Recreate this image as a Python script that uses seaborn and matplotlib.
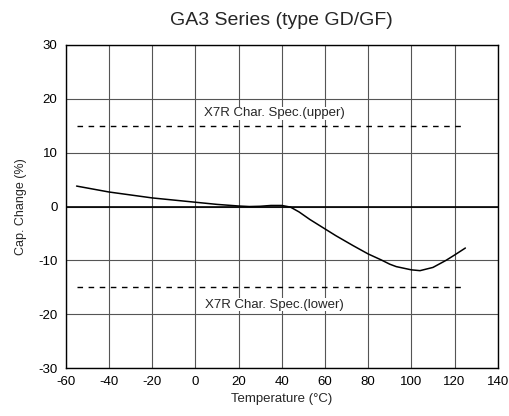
import numpy as np
import pandas as pd
import seaborn as sns
import matplotlib
matplotlib.use("Agg")
import matplotlib.pyplot as plt

# courbe
temperature = [-55, -40, -20, 0, 10, 20, 25, 30, 35, 40, 44, 48, 53, 60, 65, 73, 80, 86, 90, 93,
               100, 104, 110, 116, 120, 125]
cap_change = [3.8, 2.7, 1.6, 0.8, 0.4, 0.1, 0.0, 0.05, 0.2, 0.2, -0.1, -1.0, -2.4, -4.15, -5.4,
              -7.25, -8.8, -9.9, -10.7, -11.15, -11.75, -11.9, -11.3, -10.0, -9.0, -7.7]

spec_temp = [-55, 125]
spec_upper = [15, 15]
spec_lower = [-15, -15]

x_ticks = list(range(-60, 141, 20))
y_ticks = list(range(-30, 31, 10))

df = pd.DataFrame({"T": temperature, "C": cap_change})

sns.set_theme(style="white")
plt.rcParams['font.family'] = ['Liberation Sans', 'DejaVu Sans']
plt.rcParams['axes.unicode_minus'] = False

fig = plt.figure(figsize=(5.1, 4.16), dpi=100)
ax = fig.add_axes([0.129, 0.115, 0.847, 0.777])

sns.lineplot(data=df, x="T", y="C", ax=ax, color="black", linewidth=1.1)
sns.lineplot(x=spec_temp, y=spec_upper, ax=ax, color="black", linewidth=1.0, linestyle=(0, (4, 4)))
sns.lineplot(x=spec_temp, y=spec_lower, ax=ax, color="black", linewidth=1.0, linestyle=(0, (4, 4)))

ax.axhline(0, color="black", linewidth=1.2, zorder=1)

ax.set_xlim(-60, 140)
ax.set_ylim(-30, 30)
ax.set_xticks(x_ticks)
ax.set_yticks(y_ticks)
ax.grid(True, color="#555555", linewidth=0.8)
ax.set_axisbelow(True)
for s in ax.spines.values():
    s.set_color("black")
    s.set_linewidth(1.0)
ax.tick_params(length=0, labelsize=9.5, colors="black", pad=6)

ax.text(36.5, 17.3, "X7R Char. Spec.(upper)", ha="center", va="center", fontsize=9.5,
        bbox=dict(facecolor="white", edgecolor="none", pad=0.5))
ax.text(36.5, -18.2, "X7R Char. Spec.(lower)", ha="center", va="center", fontsize=9.5,
        bbox=dict(facecolor="white", edgecolor="none", pad=0.5))

ax.set_xlabel("Temperature (°C)", fontsize=9.5, labelpad=3)
ax.set_ylabel("Cap. Change (%)", fontsize=9, labelpad=8)
ax.set_title("GA3 Series (type GD/GF)", fontsize=14, pad=14)

fig.savefig("out.png", dpi=100)
